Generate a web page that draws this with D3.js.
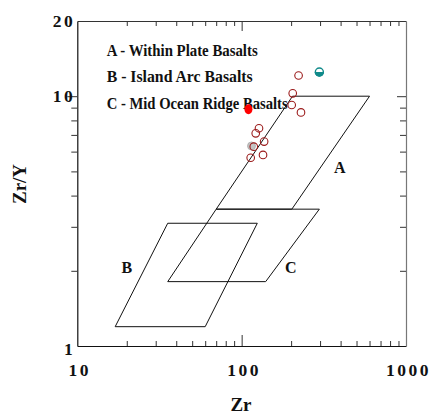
<!DOCTYPE html>
<html>
<head>
<meta charset="utf-8">
<script src="https://cdn.jsdelivr.net/npm/d3@7"></script>
<style>
  body { margin: 0; background: #fff; }
  svg { display: block; }
  text { font-family: "Liberation Serif", "Times New Roman", serif; font-weight: bold; fill: #111; }
</style>
</head>
<body>
<svg width="433" height="416"></svg>
<script>
// Pearce & Norry Zr/Y vs Zr discrimination fields
const fieldA = [[204, 10], [600, 10], [202, 3.53], [70, 3.53]];
const fieldB = [[35.5, 3.1], [124.5, 3.1], [60, 1.195], [17, 1.195]];
const fieldC = [[70, 3.53], [297, 3.53], [140, 1.81], [35.5, 1.81]];
const fieldLabels = [["A", 396, 5.16], ["B", 20, 2.07], ["C", 199, 2.07]];

const legendLines = [
    "A - Within Plate Basalts",
    "B - Island Arc Basalts",
    "C - Mid Ocean Ridge Basalts"
];

// samples: [Zr, Zr/Y]
const openSamples = [
    [222, 12.1], [204.5, 10.27], [201.6, 9.22], [229.6, 8.61],
    [127.5, 7.44], [121.8, 7.1], [137, 6.58], [118.5, 6.28],
    [134.9, 5.82], [113.5, 5.67]
];
const graySamples = [[114.8, 6.32]];
const redSamples = [[110, 8.86]];
const tealSamples = [[297, 12.5]];

const xTicksMinor = [20, 30, 40, 50, 60, 70, 80, 90, 100, 200, 300, 400, 500, 600, 700, 800, 900];
const xTickLabels = [10, 100, 1000];
const yTicksMinor = [2, 3, 4, 5, 6, 7, 8, 9, 10];
const yTickLabels = [1, 10, 20];

const svg = d3.select("svg");
const x0 = 77.3, x1 = 406, y0 = 21, y1 = 346;

const x = d3.scaleLog().domain([10, 1000]).range([x0, x1]);
const y = d3.scaleLog().domain([1, 20]).range([y1, y0]);

// frame + ticks
const gBottom = svg.append("g")
    .attr("transform", `translate(0,${y1})`)
    .call(d3.axisBottom(x).tickValues(xTicksMinor.concat([10, 1000])).tickSizeOuter(0).tickFormat(""));
gBottom.selectAll(".tick line").attr("y2", d => d === 100 ? -11 : (d === 10 || d === 1000) ? 0 : -5);

const gTop = svg.append("g")
    .attr("transform", `translate(0,${y0})`)
    .call(d3.axisTop(x).tickValues(xTicksMinor).tickSizeOuter(0).tickFormat(""));
gTop.selectAll(".tick line").attr("y2", d => d === 100 ? 10 : 5);

const gLeft = svg.append("g")
    .attr("transform", `translate(${x0},0)`)
    .call(d3.axisLeft(y).tickValues(yTicksMinor).tickSizeOuter(0).tickFormat(""));
gLeft.selectAll(".tick line").attr("x2", d => d === 10 ? -10 : -6);

const gRight = svg.append("g")
    .attr("transform", `translate(${x1},0)`)
    .call(d3.axisRight(y).tickValues(yTicksMinor).tickSizeOuter(0).tickFormat(""));
gRight.selectAll(".tick line").attr("x2", d => d === 10 ? -9 : -6);

svg.selectAll(".domain").attr("stroke-width", 1.2);
gBottom.select(".domain").attr("stroke", "#111");
gLeft.select(".domain").attr("stroke", "#111");
gTop.select(".domain").attr("stroke", "#333");
gRight.select(".domain").attr("stroke", "#777");
svg.selectAll(".tick line").attr("stroke", "#333");

// tick labels
svg.append("g").selectAll("text")
    .data(xTickLabels)
    .join("text")
    .attr("x", d => x(d) + 2.5)
    .attr("y", y1 + 30)
    .attr("text-anchor", "middle")
    .attr("font-size", 17.5)
    .attr("letter-spacing", 2.5)
    .text(d => d);

svg.append("g").selectAll("text")
    .data(yTickLabels)
    .join("text")
    .attr("x", x0 - 2)
    .attr("y", d => y(d) + (d === 1 ? 9 : 5.5))
    .attr("text-anchor", "end")
    .attr("font-size", 17.5)
    .attr("letter-spacing", 2.5)
    .text(d => d);

// axis titles
svg.append("text")
    .attr("x", 241)
    .attr("y", 411)
    .attr("text-anchor", "middle")
    .attr("font-size", 19)
    .text("Zr");

svg.append("text")
    .attr("transform", "translate(26,184) rotate(-90)")
    .attr("text-anchor", "middle")
    .attr("font-size", 19)
    .text("Zr/Y");

// fields
const line = d3.line().x(d => x(d[0])).y(d => y(d[1]));
svg.append("g")
    .selectAll("path")
    .data([fieldA, fieldB, fieldC])
    .join("path")
    .attr("d", d => line(d) + "Z")
    .attr("fill", "none")
    .attr("stroke", "#111")
    .attr("stroke-width", 1);

svg.append("g").selectAll("text")
    .data(fieldLabels)
    .join("text")
    .attr("x", d => x(d[1]))
    .attr("y", d => y(d[2]) + 5.5)
    .attr("text-anchor", "middle")
    .attr("font-size", 16)
    .text(d => d[0]);

// legend
svg.append("g").selectAll("text")
    .data(legendLines)
    .join("text")
    .attr("x", 106.7)
    .attr("y", (d, i) => 55.5 + i * 26.5)
    .attr("font-size", 16)
    .attr("textLength", (d, i) => [151, 146, 181][i])
    .attr("lengthAdjust", "spacingAndGlyphs")
    .text(d => d);

// samples
svg.append("g").selectAll("circle")
    .data(graySamples)
    .join("circle")
    .attr("cx", d => x(d[0]))
    .attr("cy", d => y(d[1]))
    .attr("r", 4)
    .attr("fill", "#c4c4c4")
    .attr("stroke", "#aaa")
    .attr("stroke-width", 0.8);

svg.append("g").selectAll("ellipse")
    .data(redSamples)
    .join("ellipse")
    .attr("cx", d => x(d[0]))
    .attr("cy", d => y(d[1]))
    .attr("rx", 4)
    .attr("ry", 5)
    .attr("fill", "#f00");

svg.append("g").selectAll("circle")
    .data(openSamples)
    .join("circle")
    .attr("cx", d => x(d[0]))
    .attr("cy", d => y(d[1]))
    .attr("r", 3.8)
    .attr("fill", "none")
    .attr("stroke", "#9b1b1b")
    .attr("stroke-width", 1.1);

const teal = svg.append("g").selectAll("g")
    .data(tealSamples)
    .join("g")
    .attr("transform", d => `translate(${x(d[0])},${y(d[1])})`);
teal.append("circle")
    .attr("r", 4)
    .attr("fill", "#fff")
    .attr("stroke", "#108a8a")
    .attr("stroke-width", 1.4);
teal.append("path")
    .attr("d", d3.arc()({ innerRadius: 0, outerRadius: 4.7, startAngle: Math.PI / 2, endAngle: Math.PI * 1.5 }))
    .attr("fill", "#108a8a");
</script>
</body>
</html>
